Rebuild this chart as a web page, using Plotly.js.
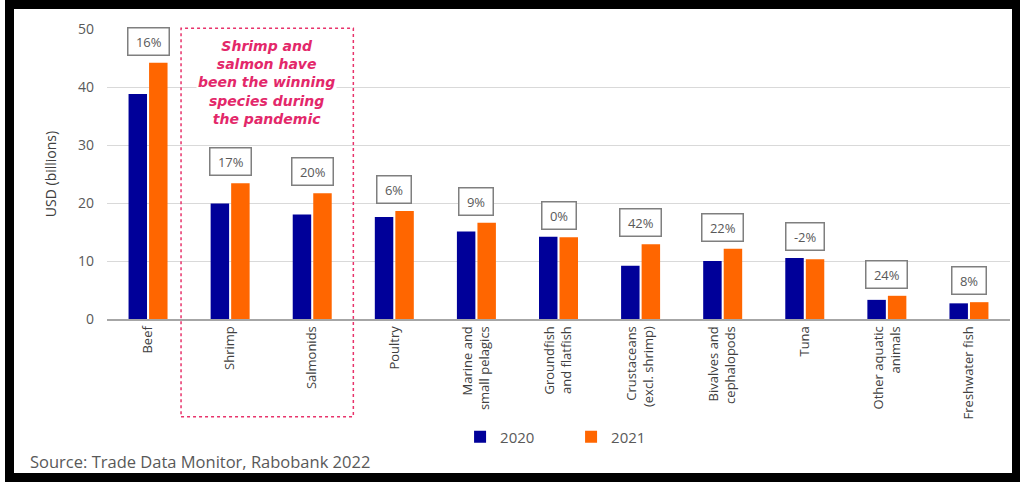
<!DOCTYPE html>
<html>
<head>
<meta charset="utf-8">
<script src="https://cdn.plot.ly/plotly-3.0.1.min.js"></script>
<style>
  html, body { margin: 0; padding: 0; background: #ffffff; width: 1020px; height: 482px; overflow: hidden; }
  #frame { position: absolute; left: 5px; top: 0px; width: 1015px; height: 482px; background: #000000; }
  #chart { position: absolute; left: 14px; top: 9px; width: 998px; height: 464px; background: #ffffff; }
</style>
</head>
<body>
<div id="frame"></div>
<div id="chart"></div>
<script>
// ---- data ----
const categories = [
  "Beef", "Shrimp", "Salmonids", "Poultry",
  "Marine and<br>small pelagics", "Groundfish<br>and flatfish",
  "Crustaceans<br>(excl. shrimp)", "Bivalves and<br>cephalopods",
  "Tuna", "Other aquatic<br>animals", "Freshwater fish"
];
const values2020 = [38.8, 19.9, 18.0, 17.6, 15.1, 14.2, 9.2, 10.0, 10.5, 3.3, 2.7];
const values2021 = [44.2, 23.4, 21.7, 18.6, 16.6, 14.1, 12.9, 12.1, 10.3, 4.0, 2.9];
const growthPct = [16, 17, 20, 6, 9, 0, 42, 22, -2, 24, 8];
const seriesNames = ["2020", "2021"];
const yTicks = [0, 10, 20, 30, 40, 50];
const calloutText = "Shrimp and<br>salmon have<br>been the winning<br>species during<br>the pandemic";
const sourceText = "Source: Trade Data Monitor, Rabobank 2022";

// ---- traces ----
const traces = [
  { type: "bar", name: seriesNames[0], x: categories, y: values2020,
    marker: { color: "#000099" }, hoverinfo: "x+y" },
  { type: "bar", name: seriesNames[1], x: categories, y: values2021,
    marker: { color: "#ff6600" }, hoverinfo: "x+y" }
];

// ---- growth label boxes ----
const annotations = categories.map((c, i) => ({
  x: c, y: Math.max(values2020[i], values2021[i]),
  xref: "x", yref: "y", yanchor: "bottom", yshift: 7,
  text: "\u00a0" + growthPct[i] + "%\u00a0",
  showarrow: false,
  font: { family: "Open Sans", size: 13, color: "#595959" },
  bgcolor: "#ffffff", bordercolor: "#7f7f7f", borderwidth: 1.5, borderpad: 4
}));

annotations.push({
  xref: "paper", yref: "paper", x: 0.177, y: 0.814,
  xanchor: "center", yanchor: "middle",
  text: "<b><i>" + calloutText + "</i></b>",
  showarrow: false, align: "center",
  font: { family: "DejaVu Sans", size: 14, color: "#e3286a" },
  bgcolor: "#ffffff", borderpad: 1
});

annotations.push({
  xref: "paper", yref: "paper", x: -0.0875, y: -0.49,
  xanchor: "left", yanchor: "middle",
  text: sourceText, showarrow: false,
  font: { family: "Open Sans", size: 16.5, color: "#595959" }
});

const layout = {
  width: 998, height: 464,
  margin: { l: 93, r: 2, t: 20, b: 154 },
  paper_bgcolor: "#ffffff", plot_bgcolor: "#ffffff",
  barmode: "group", bargap: 0.5, bargroupgap: 0.1,
  font: { family: "Open Sans", color: "#404040" },
  xaxis: {
    type: "category", tickangle: -90, ticks: "",
    showline: true, linecolor: "#a6a6a6", linewidth: 2,
    showgrid: false, automargin: false,
    tickfont: { family: "Open Sans", size: 13, color: "#404040" }
  },
  yaxis: {
    range: [0, 50], tickvals: yTicks, ticks: "",
    showgrid: true, gridcolor: "#d9d9d9", gridwidth: 1,
    zeroline: false, showline: false, automargin: false,
    ticklabelstandoff: 12,
    tickfont: { family: "Open Sans", size: 14, color: "#595959" },
    title: { text: "USD (billions)", standoff: 18,
             font: { family: "Open Sans", size: 14, color: "#404040" } }
  },
  legend: {
    orientation: "h", x: 0.391, y: -0.407, xanchor: "left", yanchor: "middle",
    entrywidth: 66, entrywidthmode: "pixels",
    font: { family: "Open Sans", size: 15, color: "#595959" },
    bgcolor: "rgba(0,0,0,0)"
  },
  shapes: [{
    type: "rect", xref: "paper", yref: "paper",
    x0: 0.082, x1: 0.2728, y0: -0.337, y1: 1.0024,
    line: { color: "#e8336b", width: 1.5, dash: "dot" },
    fillcolor: "rgba(0,0,0,0)", layer: "above"
  }],
  annotations: annotations,
  showlegend: true
};

Plotly.newPlot("chart", traces, layout, { displayModeBar: false, staticPlot: true });
</script>
</body>
</html>
